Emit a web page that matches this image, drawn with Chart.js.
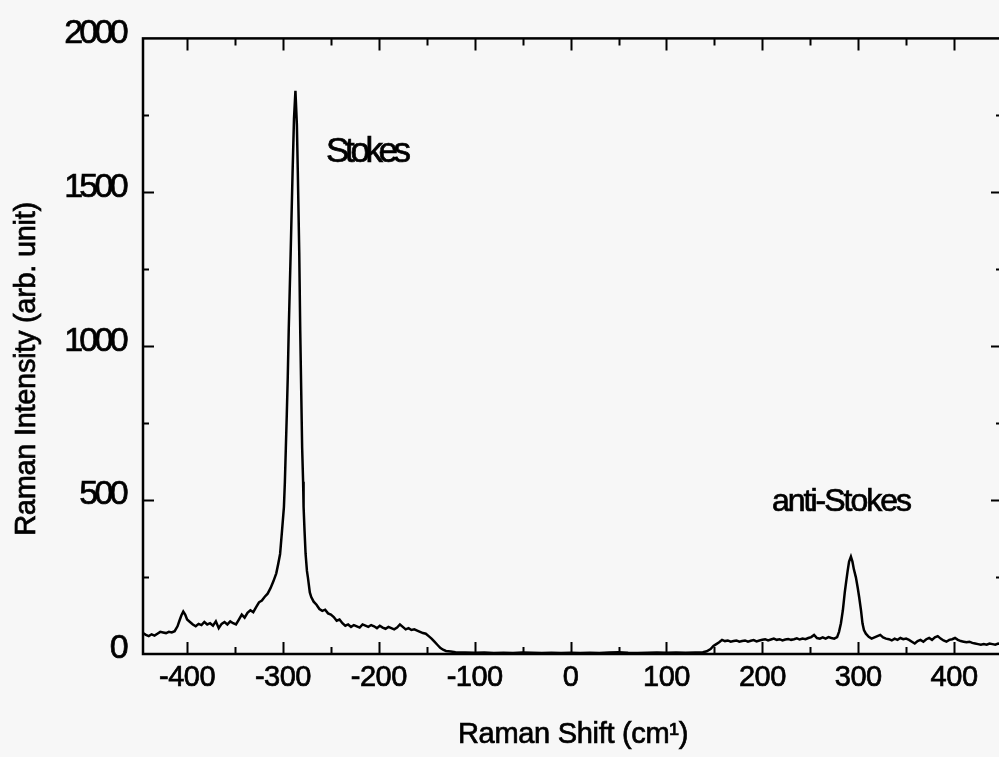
<!DOCTYPE html>
<html>
<head>
<meta charset="utf-8">
<script src="https://cdn.jsdelivr.net/npm/chart.js@4.4.1/dist/chart.umd.min.js"></script>
<style>
  html, body { margin: 0; padding: 0; background: #f7f7f7; overflow: hidden; }
  #wrap { position: relative; width: 1003px; height: 757px; }
</style>
</head>
<body>
<div id="wrap"><canvas id="raman"></canvas></div>
<script>
// Raman spectrum, Stokes (negative shift) and anti-Stokes (positive shift)
var shift = [
  -446, -443, -440, -437, -434, -431, -428, -425, -422, -419, -416, -413,
  -410, -408, -406, -404, -402, -400, -397, -394, -391, -388, -385, -382,
  -379, -376, -373, -370, -367, -364, -361, -358, -355, -352, -349, -346,
  -343, -340, -337, -334, -331, -328, -325, -322, -319, -316, -313, -310,
  -307, -305, -303, -301, -299, -298, -297, -296, -295, -294, -292, -290,
  -288.5, -287, -285.5, -284.5, -283, -282, -281, -280, -279, -278.5, -277.5, -276.4,
  -275, -274, -272, -270.5, -268, -265, -262, -259, -256, -253, -250, -247,
  -244, -241, -238, -235, -232, -229, -226, -223, -220, -217, -214, -211,
  -208, -205, -202, -199, -196, -193, -190, -187, -184, -181, -178, -175,
  -172, -169, -166, -163, -160, -157, -154, -151, -148, -145, -142, -139,
  -136, -133, -130, -125, -120, -110, -100, -90, -80, -70, -60, -50,
  -40, -30, -20, -10, 0, 10, 20, 30, 40, 50, 60, 70,
  80, 90, 100, 110, 120, 130, 138, 142, 146, 149, 152, 155,
  158, 161, 164, 167, 170, 173, 176, 179, 182, 185, 188, 191,
  194, 197, 200, 203, 206, 209, 212, 215, 218, 221, 224, 227,
  230, 233, 236, 239, 242, 245, 248, 251, 254, 257, 260, 263,
  266, 269, 272, 275, 278, 280, 282, 284, 286, 287.5, 289, 290.5,
  292.4, 294, 295.5, 297.6, 299.5, 301, 303, 304.5, 306, 308, 311, 314,
  317, 320, 323, 326, 329, 332, 335, 338, 341, 344, 347, 350,
  353, 356, 359, 362, 365, 368, 371, 374, 377, 380, 383, 386,
  389, 392, 395, 398, 401, 404, 407, 410, 413, 416, 419, 422,
  425, 428, 431, 434, 437, 440, 443, 446, 449
];
var intensity = [
  68, 62, 58, 64, 60, 66, 72, 70, 68, 72, 70, 74,
  90, 108, 125, 138, 128, 112, 104, 96, 90, 98, 94, 104,
  96, 100, 92, 106, 84, 98, 104, 96, 106, 100, 96, 112,
  128, 118, 134, 142, 136, 152, 168, 174, 186, 196, 214, 236,
  262, 292, 325, 400, 478, 560, 670, 780, 900, 1052, 1300, 1562,
  1740, 1830, 1720, 1562, 1300, 1052, 860, 670, 560, 478, 400, 325,
  270, 249, 200, 185, 170, 160, 146, 140, 144, 132, 128, 120,
  108, 112, 100, 92, 96, 88, 94, 90, 86, 96, 92, 88,
  94, 90, 84, 92, 86, 82, 88, 84, 80, 86, 96, 88,
  80, 84, 78, 80, 76, 72, 68, 66, 58, 50, 40, 30,
  20, 14, 10, 8, 6, 5, 4, 5, 3, 4, 3, 5,
  4, 3, 4, 3, 4, 3, 4, 3, 5, 6, 4, 3,
  4, 5, 4, 5, 4, 5, 6, 9, 16, 26, 32, 38,
  46, 42, 44, 40, 42, 44, 40, 42, 44, 40, 43, 45,
  41, 44, 46, 48, 44, 47, 50, 46, 48, 44, 47, 49,
  46, 48, 51, 47, 50, 48, 52, 55, 62, 52, 50, 54,
  50, 55, 52, 50, 55, 72, 100, 142, 200, 236, 270, 300,
  316, 300, 275, 249, 215, 185, 140, 99, 78, 66, 56, 50,
  54, 58, 62, 54, 50, 48, 44, 50, 46, 52, 48, 50,
  46, 40, 34, 42, 46, 40, 48, 52, 46, 54, 58, 50,
  44, 40, 46, 48, 52, 46, 42, 40, 38, 40, 36, 34,
  32, 30, 32, 30, 34, 32, 30, 34, 32
];
var xTicksMajor = [-400, -300, -200, -100, 0, 100, 200, 300, 400];
var xTicksMinor = [-350, -250, -150, -50, 50, 150, 250, 350];
var yTicksMajor = [500, 1000, 1500];
var yTicksMinor = [250, 750, 1250, 1750];
var yTickLabels = [0, 500, 1000, 1500, 2000];
var peakLabels = [
  { text: 'Stokes', x: -255, y: 1600, size: 35, spacing: -4.4 },
  { text: 'anti-Stokes', x: 210, y: 464, size: 32, spacing: -2 }
];

var FONT = '"Liberation Sans", Arial, sans-serif';
var INK = 0.7;   // faint outline so the letters read as heavy as the axes
var labelStyles = {
  x: { spacing: -0.5, dy: 0 },
  y: { spacing: -3.7, dy: -5 }
};

// linear scale whose tick labels can be squeezed together and nudged
class TightScale extends Chart.LinearScale {
  drawLabels(area) {
    var st = labelStyles[this.id] || {};
    var ctx = this.ctx;
    ctx.save();
    ctx.letterSpacing = (st.spacing || 0) + 'px';
    ctx.translate(0, st.dy || 0);
    super.drawLabels(area);
    ctx.restore();
  }
}
TightScale.id = 'tight';
TightScale.defaults = Chart.LinearScale.defaults;
Chart.register(TightScale);

function inkText(ctx, text, x, y) {
  ctx.fillText(text, x, y);
  ctx.strokeText(text, x, y);
}

// frame, inward tick marks, axis titles and peak names
var decorations = {
  id: 'decorations',
  afterDraw: function (chart) {
    var ctx = chart.ctx, a = chart.chartArea;
    var xs = chart.scales.x, ys = chart.scales.y;
    ctx.save();
    ctx.strokeStyle = '#000';
    ctx.lineWidth = 2.5;
    ctx.strokeRect(a.left, a.top, a.right - a.left, a.bottom - a.top);
    ctx.lineWidth = 2;
    ctx.beginPath();
    xTicksMajor.concat(xTicksMinor).forEach(function (v) {
      var px = Math.round(xs.getPixelForValue(v)) + 0.5;
      var len = xTicksMajor.indexOf(v) >= 0 ? 12 : 7;
      ctx.moveTo(px, a.bottom); ctx.lineTo(px, a.bottom - len);
      ctx.moveTo(px, a.top); ctx.lineTo(px, a.top + len);
    });
    yTicksMajor.concat(yTicksMinor).forEach(function (v) {
      var py = Math.round(ys.getPixelForValue(v)) + 0.5;
      var len = yTicksMajor.indexOf(v) >= 0 ? 11 : 6;
      ctx.moveTo(a.left, py); ctx.lineTo(a.left + len, py);
      ctx.moveTo(a.right, py); ctx.lineTo(a.right - len, py);
    });
    ctx.stroke();

    ctx.fillStyle = '#000';
    ctx.lineWidth = INK;
    ctx.textBaseline = 'alphabetic';
    ctx.font = '29px ' + FONT;
    ctx.textAlign = 'center';
    ctx.letterSpacing = '-0.3px';
    inkText(ctx, 'Raman Shift (cm\u00b9)', 573, 743);
    ctx.save();
    ctx.translate(35, 369);
    ctx.rotate(-Math.PI / 2);
    inkText(ctx, 'Raman Intensity (arb. unit)', 0, 0);
    ctx.restore();

    ctx.textAlign = 'left';
    peakLabels.forEach(function (p) {
      ctx.font = p.size + 'px ' + FONT;
      ctx.letterSpacing = p.spacing + 'px';
      inkText(ctx, p.text, xs.getPixelForValue(p.x), ys.getPixelForValue(p.y));
    });
    ctx.restore();
  }
};

var points = shift.map(function (s, i) { return { x: s, y: intensity[i] }; });

new Chart(document.getElementById('raman'), {
  type: 'line',
  data: {
    datasets: [{
      data: points,
      borderColor: '#000',
      borderWidth: 2.5,
      pointRadius: 0,
      tension: 0,
      fill: false
    }]
  },
  options: {
    responsive: true,
    maintainAspectRatio: false,
    animation: false,
    layout: { padding: { top: 33, right: 1, left: 0, bottom: 0 } },
    plugins: { legend: { display: false }, tooltip: { enabled: false } },
    scales: {
      x: {
        type: 'tight',
        min: -446,
        max: 450,
        afterFit: function (s) { s.height = 103; },
        afterBuildTicks: function (s) {
          s.ticks = xTicksMajor.map(function (v) { return { value: v }; });
        },
        grid: { display: false, drawTicks: false },
        border: { display: false },
        ticks: {
          color: '#000',
          padding: 7,
          maxRotation: 0,
          textStrokeColor: '#000',
          textStrokeWidth: INK,
          callback: function (v) { return String(v); },
          font: { family: FONT, size: 29 }
        }
      },
      y: {
        type: 'tight',
        min: 0,
        max: 2000,
        afterFit: function (s) { s.width = 143; },
        afterBuildTicks: function (s) {
          s.ticks = yTickLabels.map(function (v) { return { value: v }; });
        },
        grid: { display: false, drawTicks: false },
        border: { display: false },
        ticks: {
          color: '#000',
          padding: 18,
          textStrokeColor: '#000',
          textStrokeWidth: INK,
          callback: function (v) { return String(v); },
          font: { family: FONT, size: 34 }
        }
      }
    }
  },
  plugins: [decorations]
});
</script>
</body>
</html>
